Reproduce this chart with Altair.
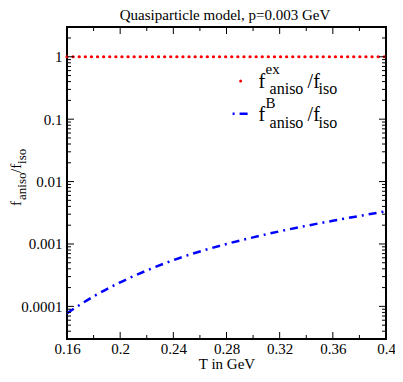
import altair as alt
import pandas as pd

FONT = "Liberation Serif"

# ---- data ----
T = [0.16, 0.18, 0.20, 0.22, 0.24, 0.26, 0.28, 0.30, 0.32, 0.34, 0.36, 0.38, 0.40]
F_EX = [1.0, 1.0, 1.0, 1.0, 1.0, 1.0, 1.0, 1.0, 1.0, 1.0, 1.0, 1.0, 1.0]
F_B = [7.76e-5, 1.445e-4, 2.43e-4, 3.76e-4, 5.50e-4, 7.59e-4, 1.0e-3,
       1.276e-3, 1.596e-3, 1.954e-3, 2.355e-3, 2.81e-3, 3.34e-3]

X_MAJOR = [0.16, 0.20, 0.24, 0.28, 0.32, 0.36, 0.40]
X_MINOR = [0.18, 0.22, 0.26, 0.30, 0.34, 0.38]
Y_MAJOR = [1, 0.1, 0.01, 0.001, 0.0001]
Y_MINOR = [2,
           0.2, 0.3, 0.4, 0.5, 0.6, 0.7, 0.8, 0.9,
           0.02, 0.03, 0.04, 0.05, 0.06, 0.07, 0.08, 0.09,
           0.002, 0.003, 0.004, 0.005, 0.006, 0.007, 0.008, 0.009,
           0.0002, 0.0003, 0.0004, 0.0005, 0.0006, 0.0007, 0.0008, 0.0009,
           0.00004, 0.00005, 0.00006, 0.00007, 0.00008, 0.00009]

W, H = 319, 312
MAJ, MIN = 7, 4
K = H / 323.5  # vertical scale relative to the reference plot box

df = pd.DataFrame({"T": T, "ex": F_EX, "B": F_B})
one = pd.DataFrame({"a": [0]})

xs = alt.Scale(domain=[0.16, 0.4], nice=False, zero=False)
ys = alt.Scale(type="log", domain=[3e-5, 3], nice=False)

x_axis = alt.Axis(values=X_MAJOR, format="~g", ticks=False, domain=False, grid=False,
                  labelFlush=False, labelFont=FONT, labelFontSize=15, labelColor="black",
                  labelPadding=2, title="T in GeV", titleFont=FONT, titleFontSize=15,
                  titleFontWeight="normal", titleColor="black", titlePadding=0)
y_axis = alt.Axis(values=Y_MAJOR, format=".4~f", ticks=False, domain=False, grid=False,
                  labelFlush=False, labelFont=FONT, labelFontSize=15, labelColor="black",
                  labelPadding=5, title="")

ex_line = alt.Chart(df).mark_line(color="red", strokeWidth=3.2, strokeDash=[0.1, 6],
                                  strokeCap="round").encode(
    x=alt.X("T:Q", scale=xs, axis=x_axis),
    y=alt.Y("ex:Q", scale=ys, axis=y_axis),
)
b_line = alt.Chart(df).mark_line(color="blue", strokeWidth=2.5, strokeDash=[8, 5, 2, 5],
                                 interpolate="monotone").encode(
    x=alt.X("T:Q", scale=xs, axis=x_axis),
    y=alt.Y("B:Q", scale=ys, axis=y_axis),
)


def xticks(vals, y0, y1):
    return alt.Chart(pd.DataFrame({"T": vals})).mark_rule(color="black", strokeWidth=1).encode(
        x=alt.X("T:Q", scale=xs, axis=x_axis), y=alt.value(y0), y2=alt.value(y1))


def yticks(vals, x0, x1):
    return alt.Chart(pd.DataFrame({"B": vals})).mark_rule(color="black", strokeWidth=1).encode(
        y=alt.Y("B:Q", scale=ys, axis=y_axis), x=alt.value(x0), x2=alt.value(x1))


def txt(s, x, y, size, angle=0, align="left"):
    return alt.Chart(one).mark_text(text=s, font=FONT, fontSize=size, align=align,
                                    baseline="alphabetic", angle=angle, color="black").encode(
        x=alt.value(x), y=alt.value(y))


ticks = [
    xticks(X_MAJOR, H, H - MAJ), xticks(X_MINOR, H, H - MIN),
    xticks(X_MAJOR, 0, MAJ), xticks(X_MINOR, 0, MIN),
    yticks(Y_MAJOR, 0, MAJ), yticks(Y_MINOR, 0, MIN),
    yticks(Y_MAJOR, W, W - MAJ), yticks(Y_MINOR, W, W - MIN),
]

r1 = 63.5 * K - 0.5
r2 = r1 + 33.5
lx = 191.6  # legend text left

# legend samples
leg_dot = alt.Chart(one).mark_circle(color="red", size=9, opacity=1).encode(
    x=alt.value(lx - 18), y=alt.value(r1 - 6.8))
leg_dash = alt.Chart(one).mark_rule(color="blue", strokeWidth=2.5, strokeDash=[2, 5, 8]).encode(
    x=alt.value(lx - 26), x2=alt.value(lx - 10), y=alt.value(r2 - 7.5))

yc = 157.5 * K  # y-title anchor

texts = [
    txt("Quasiparticle model, p=0.003 GeV", 158, -7, 15, align="center"),
    # legend row 1
    txt("f", lx, r1, 20), txt("ex", lx + 7, r1 - 14, 15), txt("aniso", lx + 11, r1 + 6, 16),
    txt("/f", lx + 49, r1, 20), txt("iso", lx + 60, r1 + 6, 16),
    # legend row 2
    txt("f", lx, r2, 20), txt("B", lx + 7, r2 - 13.5, 15), txt("aniso", lx + 11, r2 + 6.5, 16),
    txt("/f", lx + 49, r2, 20), txt("iso", lx + 60, r2 + 6.5, 16),
    # y title (rotated)
    txt("f", -46, yc + 27, 15, angle=270), txt("aniso", -41, yc + 21, 13, angle=270),
    txt("/f", -46, yc - 6, 15, angle=270), txt("iso", -41, yc - 15, 13, angle=270),
]

chart = alt.layer(ex_line, b_line, *ticks, leg_dot, leg_dash, *texts).properties(
    width=W, height=H,
    autosize=alt.AutoSizeParams(type="none"),
    padding={"left": 59, "top": 19, "right": 9, "bottom": 35},
    background="white",
).configure_view(stroke="black", strokeWidth=2)

chart.save("out.html", embed_options={"renderer": "svg", "actions": False})
